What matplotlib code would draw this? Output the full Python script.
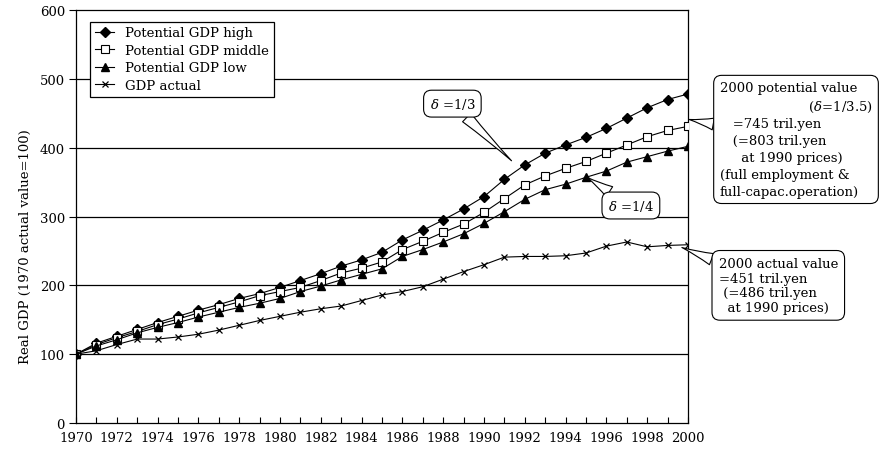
import matplotlib
matplotlib.use("Agg")
import matplotlib.pyplot as plt

plt.rcParams["font.family"] = ["DejaVu Serif"]
plt.rcParams["font.size"] = 9.5
plt.rcParams["mathtext.fontset"] = "dejavuserif"

years = list(range(1970, 2001))
gdp_high = [100, 116, 126, 136, 146, 155, 164, 172, 181, 188, 197, 207, 217, 228, 237, 248,
            266, 280, 295, 311, 329, 354, 375, 392, 404, 415, 428, 443, 458, 470, 478]
gdp_middle = [100, 114, 124, 133, 143, 151, 160, 168, 176, 185, 191, 197, 207, 218, 225, 234,
              252, 264, 277, 289, 306, 326, 346, 359, 370, 380, 392, 404, 416, 425, 431]
gdp_low = [100, 112, 121, 131, 139, 146, 154, 161, 168, 174, 181, 191, 199, 208, 216, 224,
           242, 252, 263, 275, 290, 307, 325, 339, 347, 357, 366, 379, 387, 395, 402]
gdp_actual = [100, 105, 114, 122, 122, 125, 129, 135, 142, 149, 155, 161, 166, 170, 178, 186,
              191, 198, 209, 220, 230, 241, 242, 242, 243, 247, 257, 263, 256, 258, 259]
year_ticks = list(range(1970, 2001, 2))
y_ticks = [0, 100, 200, 300, 400, 500, 600]

fig = plt.figure(figsize=(8.89, 4.52), dpi=100)
ax = fig.add_axes([0.0855, 0.0619, 0.6884, 0.9137])

for v in y_ticks[1:-1]:
    ax.axhline(v, color="black", lw=0.9, zorder=1)

ax.plot(years, gdp_high, color="black", lw=0.8, marker="D", ms=5, mfc="black", mec="black",
        label="Potential GDP high", zorder=3)
ax.plot(years, gdp_middle, color="black", lw=0.8, marker="s", ms=6, mfc="white", mec="black",
        mew=0.8, label="Potential GDP middle", zorder=3)
ax.plot(years, gdp_low, color="black", lw=0.8, marker="^", ms=5.5, mfc="black", mec="black",
        label="Potential GDP low", zorder=3)
ax.plot(years, gdp_actual, color="black", lw=0.8, marker="x", ms=5, mew=0.9,
        label="GDP actual", zorder=3)

ax.set_xlim(1970, 2000)
ax.set_ylim(0, 600)
ax.set_xticks(year_ticks)
ax.set_xticks(years, minor=True)
ax.set_yticks(y_ticks)
ax.tick_params(axis="x", which="both", direction="in", length=4, width=0.8, pad=6)
ax.tick_params(axis="y", direction="out", length=5, width=0.8, pad=3)
for s in ax.spines.values():
    s.set_linewidth(0.9)

ax.set_ylabel("Real GDP (1970 actual value=100)")
ax.yaxis.set_label_coords(-0.072, 0.43)

leg = ax.legend(loc="upper left", bbox_to_anchor=(0.023, 0.972), borderaxespad=0,
                fancybox=False, edgecolor="black", framealpha=1, handlelength=1.5,
                handletextpad=0.8, borderpad=0.35, labelspacing=0.35)
leg.get_frame().set_linewidth(0.9)

box = dict(boxstyle="round,pad=0.45,rounding_size=0.6", fc="white", ec="black", lw=0.8)
wedge = dict(arrowstyle="wedge,tail_width=0.9,shrink_factor=0.4", fc="white", ec="black",
             lw=0.8, shrinkA=0, shrinkB=0)

ax.annotate(r"$\delta$ =1/3", xy=(1991.35, 381), xytext=(1988.45, 464), ha="center", va="center",
            bbox=box, arrowprops=wedge, zorder=5)
ax.annotate(r"$\delta$ =1/4", xy=(1995.05, 357), xytext=(1997.2, 316), ha="center", va="center",
            bbox=box, arrowprops=wedge, zorder=5)
ax.annotate("2000 potential value\n                     ($\\delta$=1/3.5)\n   =745 tril.yen\n"
            "   (=803 tril.yen\n     at 1990 prices)\n(full employment &\nfull-capac.operation)",
            xy=(2000.05, 441), xytext=(2001.55, 412), ha="left", va="center", linespacing=1.38,
            bbox=box, arrowprops=wedge, annotation_clip=False, zorder=5)
ax.annotate("2000 actual value\n=451 tril.yen\n (=486 tril.yen\n  at 1990 prices)",
            xy=(1999.7, 255), xytext=(2001.5, 200), ha="left", va="center", linespacing=1.15,
            bbox=dict(boxstyle="round,pad=0.5,rounding_size=0.6", fc="white", ec="black", lw=0.8),
            arrowprops=wedge, annotation_clip=False, zorder=5)

fig.savefig("out.png", dpi=100)
